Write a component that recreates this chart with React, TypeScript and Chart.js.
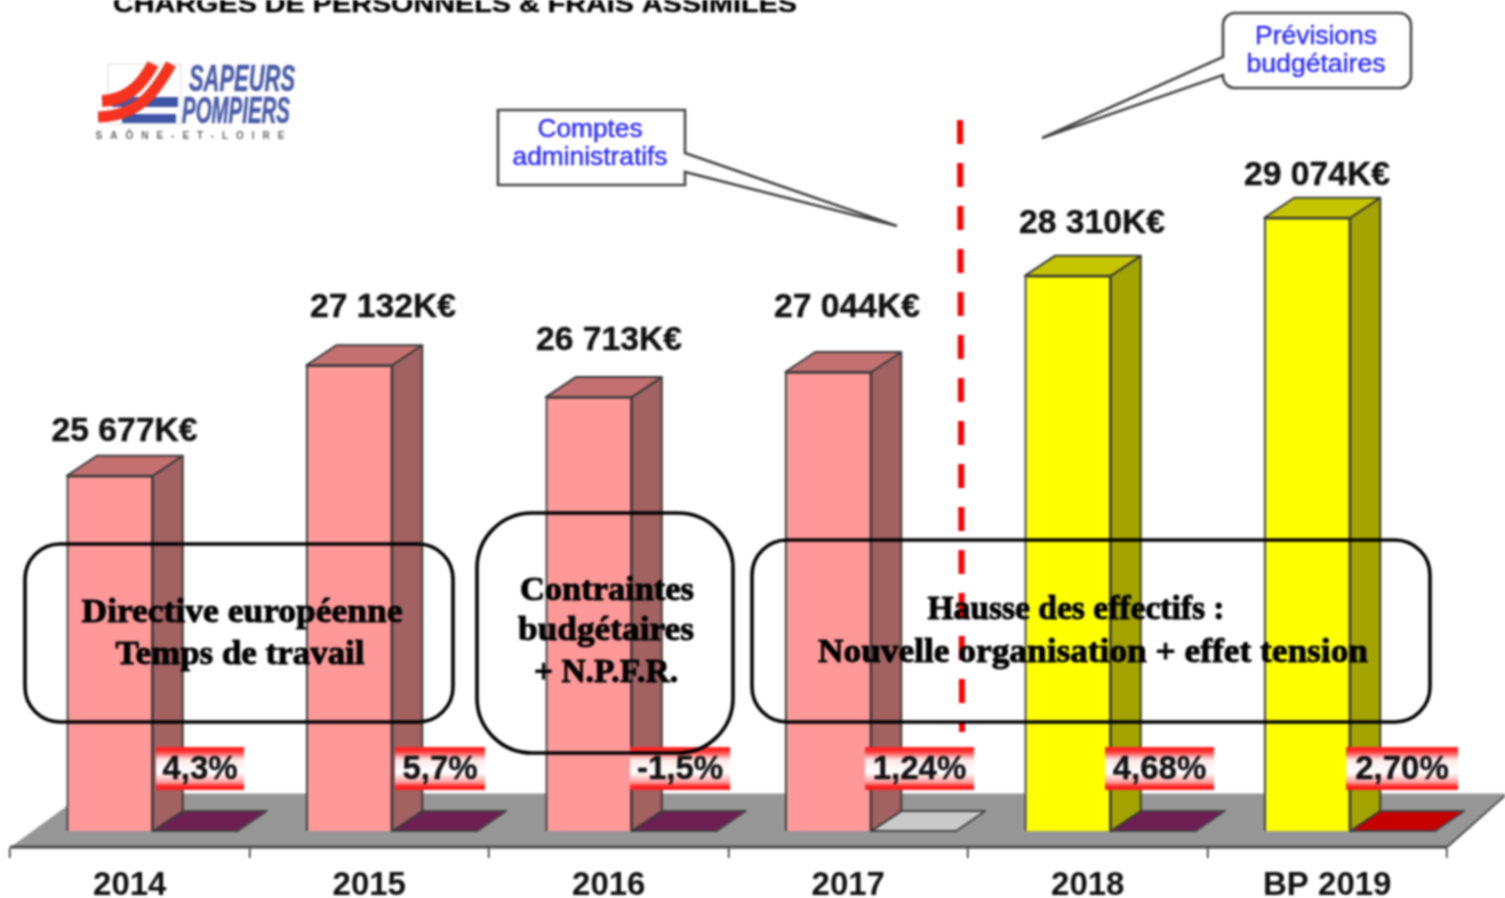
import React, { useEffect, useRef } from "react";
import { Chart, registerables } from "chart.js";

Chart.register(...registerables);

// ---- data ----
const categories = ["2014", "2015", "2016", "2017", "2018", "BP 2019"];
const chargesKEuro = [25677, 27132, 26713, 27044, 28310, 29074];
const growthLabels = ["4,3%", "5,7%", "-1,5%", "1,24%", "4,68%", "2,70%"];
const titleText = "CHARGES DE PERSONNELS & FRAIS ASSIMILES";

// ---- styles and layout of the decorations ----
const PINK = { front: "#ff9999", top: "#c47070", side: "#a36262" };
const YELLOW = { front: "#ffff00", top: "#c6c600", side: "#a3a300" };
const barStyles = [PINK, PINK, PINK, PINK, YELLOW, YELLOW];
const tileColors = ["#6d1f52", "#6d1f52", "#6d1f52", "#c9c9c9", "#6d1f52", "#c60000"];
const labelCenters = [124.5, 383, 609, 847, 1092, 1317];
const labelYs = [432, 308, 341, 308, 224, 176];
const pctBoxes = [
  [156, 244],
  [395, 485],
  [630, 730],
  [865, 974],
  [1105, 1214],
  [1346, 1458],
];
const BAR_SHIFT = -20;
const DX = 30;
const DY = 20;

const SANS = '"Liberation Sans", Arial, sans-serif';
const SERIF = '"Liberation Serif", "Times New Roman", serif';

type C = CanvasRenderingContext2D;

function fitText(ctx: C, text: string, cx: number, cy: number, w: number, font: string, color: string, heavy = 0) {
  ctx.save();
  ctx.font = font;
  ctx.fillStyle = color;
  ctx.textAlign = "center";
  ctx.textBaseline = "middle";
  const m = ctx.measureText(text).width;
  ctx.translate(cx, cy);
  ctx.scale(w / m, 1);
  if (heavy > 0) {
    ctx.strokeStyle = color;
    ctx.lineWidth = heavy;
    ctx.lineJoin = "round";
    ctx.strokeText(text, 0, 0);
  }
  ctx.fillText(text, 0, 0);
  ctx.restore();
}

function poly(ctx: C, pts: number[][], fill: string, stroke: string, lw = 1.5) {
  ctx.beginPath();
  pts.forEach((p, i) => (i ? ctx.lineTo(p[0], p[1]) : ctx.moveTo(p[0], p[1])));
  ctx.closePath();
  ctx.fillStyle = fill;
  ctx.fill();
  ctx.lineWidth = lw;
  ctx.strokeStyle = stroke;
  ctx.lineJoin = "round";
  ctx.stroke();
}

function drawLogo(ctx: C) {
  ctx.save();
  ctx.strokeStyle = "#dddddd";
  ctx.lineWidth = 1;
  ctx.strokeRect(108, 64, 73, 60);
  ctx.fillStyle = "#3f55a5";
  ctx.fillRect(112, 97, 66, 10);
  ctx.fillRect(122, 114, 54, 9);
  ctx.strokeStyle = "#f5331f";
  ctx.lineCap = "butt";
  ctx.lineWidth = 12;
  ctx.beginPath();
  ctx.moveTo(153, 64);
  ctx.bezierCurveTo(140, 88, 125, 100, 102, 101);
  ctx.stroke();
  ctx.lineWidth = 11;
  ctx.beginPath();
  ctx.moveTo(171, 64);
  ctx.bezierCurveTo(152, 98, 135, 116, 98, 117);
  ctx.stroke();
  ctx.restore();
  const narrow = 'italic bold 36px "Liberation Sans Narrow", "Liberation Sans", sans-serif';
  fitText(ctx, "SAPEURS", 242, 81, 106, narrow, "#4a5ca8", 0.6);
  fitText(ctx, "POMPIERS", 236, 113, 108, narrow, "#4a5ca8", 0.6);
  ctx.save();
  ctx.font = "bold 10px " + SANS;
  ctx.fillStyle = "#666666";
  ctx.textAlign = "center";
  ctx.textBaseline = "middle";
  ctx.letterSpacing = "8px";
  ctx.fillText("SAÔNE-ET-LOIRE", 194, 136);
  ctx.restore();
}

function roundedBox(ctx: C, x0: number, y0: number, x1: number, y1: number, r: number) {
  ctx.beginPath();
  ctx.roundRect(x0, y0, x1 - x0, y1 - y0, r);
  ctx.lineWidth = 3.6;
  ctx.strokeStyle = "#000000";
  ctx.stroke();
}

const decorations = {
  id: "decorations",
  beforeDatasetsDraw(chart: Chart) {
    const ctx = chart.ctx as C;
    const bottom = chart.chartArea.bottom;
    const x = chart.scales.x;
    ctx.save();
    // floor of the 3D scene
    const left = x.left;
    const right = x.right;
    poly(ctx, [[left, bottom], [right, bottom], [1507, 794], [84, 794]], "#969696", "#969696", 1);
    ctx.strokeStyle = "#4d4d4d";
    ctx.lineWidth = 3;
    ctx.beginPath();
    ctx.moveTo(left, bottom - 1);
    ctx.lineTo(right, bottom - 1);
    ctx.stroke();
    ctx.lineWidth = 2;
    ctx.beginPath();
    ctx.moveTo(right, bottom - 1);
    ctx.lineTo(1507, 794);
    ctx.stroke();
    // tiles and 3D faces derived from the bars themselves
    const meta = chart.getDatasetMeta(0);
    meta.data.forEach((bar: any, i: number) => {
      const p = bar.getProps(["x", "y", "base", "width"], true);
      const x0 = p.x + BAR_SHIFT - p.width / 2;
      const x1 = p.x + BAR_SHIFT + p.width / 2;
      const s = barStyles[i];
      poly(ctx, [[x1, p.base], [x1 + 85, p.base], [x1 + 114, p.base - DY], [x1 + DX, p.base - DY]], tileColors[i], "#444444", 2);
      poly(ctx, [[x1, p.y], [x1 + DX, p.y - DY], [x1 + DX, p.base - DY], [x1, p.base]], s.side, "#3a3a3a", 2);
      poly(ctx, [[x0, p.y], [x0 + DX, p.y - DY], [x1 + DX, p.y - DY], [x1, p.y]], s.top, "#3a3a3a", 2);
    });
    ctx.restore();
  },
  beforeDatasetDraw(chart: Chart) {
    chart.ctx.save();
    chart.ctx.translate(BAR_SHIFT, 0);
  },
  afterDatasetDraw(chart: Chart) {
    chart.ctx.restore();
  },
  afterDatasetsDraw(chart: Chart) {
    const ctx = chart.ctx as C;
    ctx.save();

    // title
    fitText(ctx, titleText, 455, 5, 684, "bold 24px " + SANS, "#000000", 0.4);
    drawLogo(ctx);

    // value labels
    chargesKEuro.forEach((v, i) => {
      const text = `${Math.floor(v / 1000)} ${String(v % 1000).padStart(3, "0")}K€`;
      fitText(ctx, text, labelCenters[i], labelYs[i], 146, "bold 33px " + SANS, "#111111", 0.4);
    });

    // dashed separator
    ctx.save();
    ctx.strokeStyle = "#ff0000";
    ctx.lineWidth = 6;
    ctx.setLineDash([24, 19]);
    ctx.beginPath();
    ctx.moveTo(960, 120);
    ctx.lineTo(962, 732);
    ctx.stroke();
    ctx.restore();

    // growth labels
    growthLabels.forEach((t, i) => {
      const [x0, x1] = pctBoxes[i];
      const g = ctx.createLinearGradient(0, 747, 0, 790);
      g.addColorStop(0, "#ff2020");
      g.addColorStop(0.1, "#ff3030");
      g.addColorStop(0.3, "#ffe8e8");
      g.addColorStop(0.6, "#ffffff");
      g.addColorStop(0.82, "#ff9a9a");
      g.addColorStop(0.92, "#ff2020");
      g.addColorStop(1, "#ff2020");
      ctx.fillStyle = g;
      ctx.fillRect(x0, 747, x1 - x0, 43);
      ctx.font = "bold 33px " + SANS;
      const w = ctx.measureText(t).width;
      fitText(ctx, t, (x0 + x1) / 2, 770, w, "bold 33px " + SANS, "#111111", 0.4);
    });

    // commentary boxes
    roundedBox(ctx, 25, 544, 453, 722, 35);
    roundedBox(ctx, 477, 513, 733, 753, 55);
    roundedBox(ctx, 752, 540, 1430, 722, 35);
    const f = "bold 34px " + SERIF;
    const k = "#000000";
    const h = 1;
    fitText(ctx, "Directive européenne", 242, 613, 321, f, k, h);
    fitText(ctx, "Temps de travail", 240, 655, 249, f, k, h);
    fitText(ctx, "Contraintes", 607, 591, 174, f, k, h);
    fitText(ctx, "budgétaires", 606, 631, 176, f, k, h);
    fitText(ctx, "+ N.P.F.R.", 606, 673, 144, f, k, h);
    fitText(ctx, "Hausse des effectifs :", 1076, 610, 297, f, k, h);
    fitText(ctx, "Nouvelle organisation + effet tension", 1093, 653, 550, f, k, h);

    // callouts
    const tailStroke = "#444444";
    ctx.beginPath();
    ctx.moveTo(498, 110);
    ctx.lineTo(685, 110);
    ctx.lineTo(685, 153);
    ctx.lineTo(897, 226);
    ctx.lineTo(685, 172);
    ctx.lineTo(685, 185);
    ctx.lineTo(498, 185);
    ctx.closePath();
    ctx.fillStyle = "#ffffff";
    ctx.fill();
    ctx.strokeStyle = tailStroke;
    ctx.lineWidth = 2.6;
    ctx.lineJoin = "miter";
    ctx.stroke();
    const blue = "#2a2aff";
    const rf = "26px " + SANS;
    fitText(ctx, "Comptes", 590, 130, 105, rf, blue, 0.4);
    fitText(ctx, "administratifs", 590, 158, 155, rf, blue, 0.4);

    const r = 12;
    ctx.beginPath();
    ctx.moveTo(1223 + r, 13);
    ctx.arcTo(1411, 13, 1411, 88, r);
    ctx.arcTo(1411, 88, 1223, 88, r);
    ctx.arcTo(1223, 88, 1223, 75, r);
    ctx.lineTo(1223, 75);
    ctx.lineTo(1042, 138);
    ctx.lineTo(1223, 57);
    ctx.arcTo(1223, 13, 1411, 13, r);
    ctx.closePath();
    ctx.fillStyle = "#ffffff";
    ctx.fill();
    ctx.stroke();
    fitText(ctx, "Prévisions", 1316, 37, 122, rf, blue, 0.4);
    fitText(ctx, "budgétaires", 1316, 65, 139, rf, blue, 0.4);

    ctx.restore();
  },
};

export default function App() {
  const ref = useRef<HTMLCanvasElement | null>(null);
  useEffect(() => {
    if (!ref.current) return;
    const pxPerUnit = 0.07595;
    const yMin = 21000 - 17 / pxPerUnit;
    const yMax = yMin + 848 / pxPerUnit;
    const chart = new Chart(ref.current, {
      type: "bar",
      data: {
        labels: categories,
        datasets: [
          {
            data: chargesKEuro,
            base: 21000,
            barThickness: 86,
            backgroundColor: barStyles.map((s) => s.front),
            borderColor: "#3a3a3a",
            borderWidth: 2,
          } as any,
        ],
      },
      options: {
        animation: false,
        responsive: false,
        layout: { padding: { left: 10, right: 58, top: 0, bottom: 0 } },
        plugins: { legend: { display: false }, tooltip: { enabled: false }, title: { display: false } },
        scales: {
          x: {
            afterFit: (s: any) => {
              s.height = 50;
            },
            border: { display: false },
            grid: { drawOnChartArea: false, drawTicks: true, tickLength: 10, color: "#222222", lineWidth: 1.5 },
            ticks: {
              autoSkip: false,
              maxRotation: 0,
              padding: 8,
              color: "#111111",
              font: { family: "Liberation Sans", size: 33, weight: "bold" },
            },
          },
          y: { display: false, min: yMin, max: yMax, grid: { display: false } },
        },
      },
      plugins: [decorations as any],
    });
    return () => chart.destroy();
  }, []);
  return (
    <canvas
      ref={ref}
      width={1505}
      height={898}
      style={{ position: "fixed", left: 0, top: 0, display: "block", background: "#ffffff", filter: "blur(0.9px)" }}
    />
  );
}
